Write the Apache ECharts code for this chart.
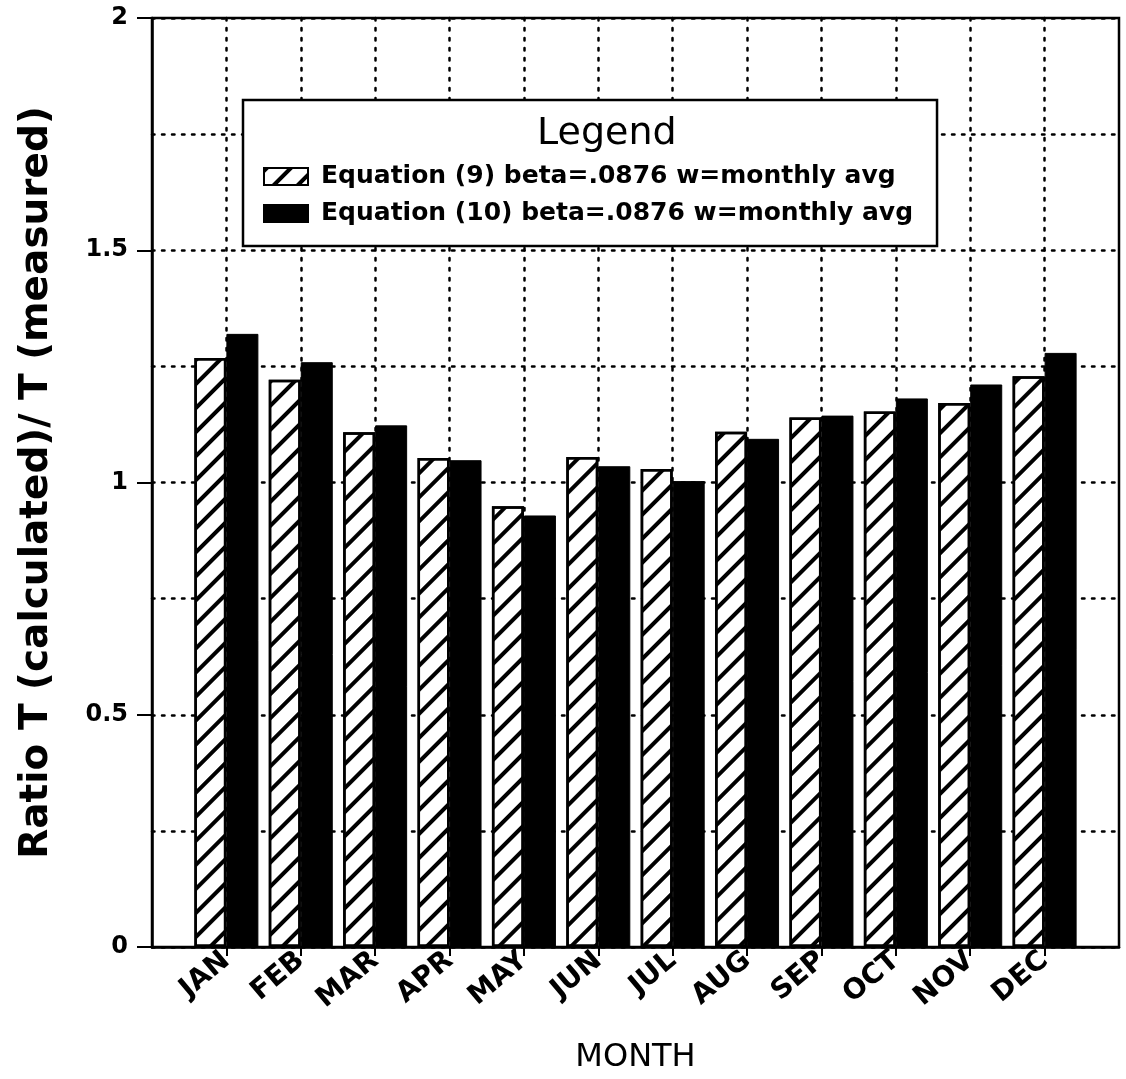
<!DOCTYPE html>
<html>
<head>
<meta charset="utf-8">
<script src="https://cdn.jsdelivr.net/npm/echarts@6/dist/echarts.min.js"></script>
<style>html,body{margin:0;padding:0;background:#fff;}#c{width:1126px;height:1079px;}</style>
</head>
<body>
<div id="c"></div>
<script>
const months = ['JAN','FEB','MAR','APR','MAY','JUN','JUL','AUG','SEP','OCT','NOV','DEC'];
const eq9  = [1.268, 1.221, 1.108, 1.053, 0.949, 1.055, 1.029, 1.109, 1.140, 1.153, 1.171, 1.229];
const eq10 = [1.320, 1.259, 1.123, 1.048, 0.929, 1.035, 1.003, 1.094, 1.144, 1.181, 1.211, 1.279];
const seriesNames = ['Equation (9) beta=.0876 w=monthly avg', 'Equation (10) beta=.0876 w=monthly avg'];
const yTicks = [0, 0.5, 1, 1.5, 2];

const FONT = 'DejaVu Sans';
const dotted = { color: '#000', width: 2.5, type: [2.5, 7.5], cap: 'round' };
const positions = months.map((m, i) => i + 1);

const chart = echarts.init(document.getElementById('c'), null, { renderer: 'canvas' });
chart.setOption({
  backgroundColor: '#fff',
  animation: false,
  title: {
    text: 'Legend', left: 532, top: 110,
    textStyle: { fontFamily: FONT, fontSize: 38, fontWeight: 'normal', color: '#000' }
  },
  legend: {
    orient: 'vertical', left: 243, top: 100,
    padding: [64, 24, 20, 20],
    itemWidth: 44, itemHeight: 17, itemGap: 12, icon: 'rect',
    borderColor: '#000', borderWidth: 2.5, backgroundColor: '#fff',
    textStyle: { fontFamily: FONT, fontSize: 25, fontWeight: 'bold', color: '#000', padding: [0, 0, 0, 8] },
    data: seriesNames
  },
  grid: { left: 152, right: 7, top: 18, bottom: 131, show: true, borderColor: '#000', borderWidth: 2.5, backgroundColor: 'transparent' },
  xAxis: {
    type: 'value', min: 0, max: months.length + 1, interval: 1,
    name: 'MONTH', nameLocation: 'middle', nameGap: 95,
    nameTextStyle: { fontFamily: FONT, fontSize: 32, color: '#000' },
    axisLine: { lineStyle: { color: '#000', width: 2.5 } },
    axisTick: { show: true, length: 9, inside: false, customValues: positions, lineStyle: { color: '#000', width: 2 } },
    axisLabel: {
      customValues: positions, rotate: 40, margin: 10,
      fontFamily: FONT, fontSize: 28, fontWeight: 'bold', color: '#000',
      formatter: v => months[v - 1] || ''
    },
    splitLine: { show: true, lineStyle: dotted }
  },
  yAxis: {
    type: 'value', min: 0, max: 2, interval: 0.5,
    name: 'Ratio T (calculated)/ T (measured)', nameLocation: 'middle', nameGap: 96,
    nameTextStyle: { fontFamily: FONT, fontSize: 39, fontWeight: 'bold', color: '#000' },
    axisLine: { show: true, lineStyle: { color: '#000', width: 2.5 } },
    axisTick: { show: true, length: 15, inside: false, lineStyle: { color: '#000', width: 2 } },
    axisLabel: {
      margin: 24, fontFamily: FONT, fontSize: 24, fontWeight: 'bold', color: '#000',
      formatter: v => String(v)
    },
    splitLine: { show: true, lineStyle: dotted },
    minorTick: { show: false, splitNumber: 2 },
    minorSplitLine: { show: true, lineStyle: dotted }
  },
  series: [
    {
      name: seriesNames[0], type: 'bar', barWidth: 32, barGap: '0%',
      itemStyle: {
        color: '#fff', borderColor: '#000', borderWidth: 2.5,
        decal: { symbol: 'rect', symbolSize: 1, dashArrayX: [1, 0], dashArrayY: [3.5, 13], rotation: -Math.PI / 4, color: '#000' }
      },
      data: months.map((m, i) => [i + 1, eq9[i]])
    },
    {
      name: seriesNames[1], type: 'bar', barWidth: 32, barGap: '0%',
      itemStyle: { color: '#000', borderColor: '#000', borderWidth: 1 },
      data: months.map((m, i) => [i + 1, eq10[i]])
    }
  ]
});
</script>
</body>
</html>
